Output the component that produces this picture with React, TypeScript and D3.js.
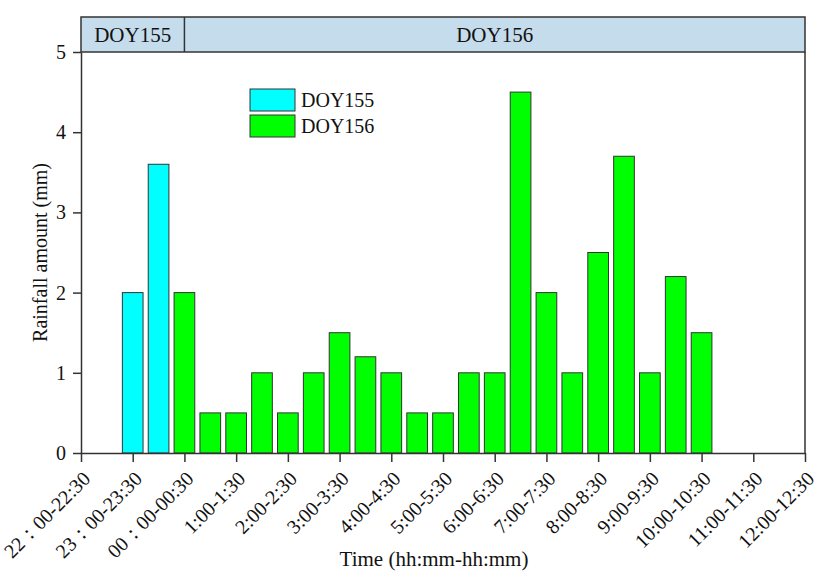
import React, { useRef, useEffect } from "react";
import * as d3 from "d3";

// half-hour bars, positioned by hour of day (24+ = next day)
const doy155Hours = [23, 23.5];
const doy155Rain = [2.0, 3.6];
const doy156Hours = [24, 24.5, 25, 25.5, 26, 26.5, 27, 27.5, 28, 28.5, 29, 29.5, 30, 30.5, 31, 31.5, 32, 32.5, 33, 33.5, 34];
const doy156Rain = [2.0, 0.5, 0.5, 1.0, 0.5, 1.0, 1.5, 1.2, 1.0, 0.5, 0.5, 1.0, 1.0, 4.5, 2.0, 1.0, 2.5, 3.7, 1.0, 2.2, 1.5];
const tickHours = [22, 23, 24, 25, 26, 27, 28, 29, 30, 31, 32, 33, 34, 35, 36];
const tickLabels = [
  "22：00-22:30", "23：00-23:30", "00：00-00:30", "1:00-1:30", "2:00-2:30",
  "3:00-3:30", "4:00-4:30", "5:00-5:30", "6:00-6:30", "7:00-7:30",
  "8:00-8:30", "9:00-9:30", "10:00-10:30", "11:00-11:30", "12:00-12:30"
];
const yTicks = [0, 1, 2, 3, 4, 5];

const FONT = "Liberation Serif, DejaVu Serif, serif";

export default function App() {
  const ref = useRef<SVGSVGElement>(null);

  useEffect(() => {
    const width = 819, height = 573;
    const margin = { top: 52, right: 14, bottom: 120, left: 81 };
    const headerH = 35;

    const svg = d3.select(ref.current);
    svg.selectAll("*").remove();
    svg.attr("width", width).attr("height", height).attr("font-family", FONT);

    svg.append("rect").attr("width", width).attr("height", height).attr("fill", "#fff");

    const x = d3.scaleLinear().domain([22, 36]).range([margin.left, width - margin.right]);
    const y = d3.scaleLinear().domain([0, 5]).range([height - margin.bottom, margin.top]);
    const barW = x(22.4) - x(22);

    // header strip
    const hdr = svg.append("g");
    hdr.append("rect")
      .attr("x", x(22)).attr("y", margin.top - headerH)
      .attr("width", x(36) - x(22)).attr("height", headerH)
      .attr("fill", "#c5dcec").attr("stroke", "#333").attr("stroke-width", 1.5);
    hdr.append("line")
      .attr("x1", x(24)).attr("x2", x(24))
      .attr("y1", margin.top - headerH).attr("y2", margin.top)
      .attr("stroke", "#333").attr("stroke-width", 1.5);
    hdr.append("text")
      .attr("x", (x(22) + x(24)) / 2).attr("y", margin.top - headerH / 2)
      .attr("text-anchor", "middle").attr("dominant-baseline", "central")
      .attr("font-family", FONT).attr("font-size", 21).attr("fill", "#111").text("DOY155");
    hdr.append("text")
      .attr("x", (x(24) + x(36)) / 2).attr("y", margin.top - headerH / 2)
      .attr("text-anchor", "middle").attr("dominant-baseline", "central")
      .attr("font-family", FONT).attr("font-size", 21).attr("fill", "#111").text("DOY156");

    // bars
    const drawBars = (hours: number[], vals: number[], color: string) => {
      svg.append("g")
        .selectAll("rect")
        .data(hours.map((h, i) => ({ h, v: vals[i] })))
        .enter()
        .append("rect")
        .attr("x", d => x(d.h) - barW / 2)
        .attr("y", d => y(d.v))
        .attr("width", barW)
        .attr("height", d => y(0) - y(d.v))
        .attr("fill", color)
        .attr("stroke", "#333")
        .attr("stroke-width", 1);
    };
    drawBars(doy155Hours, doy155Rain, "#00ffff");
    drawBars(doy156Hours, doy156Rain, "#00ff00");

    // right border
    svg.append("line")
      .attr("x1", x(36)).attr("x2", x(36)).attr("y1", y(5)).attr("y2", y(0))
      .attr("stroke", "#333").attr("stroke-width", 1.5);

    // y axis
    const yAxis = svg.append("g")
      .attr("transform", `translate(${x(22)},0)`)
      .call(d3.axisLeft(y).tickValues(yTicks).tickSize(8).tickSizeOuter(0).tickFormat(d3.format("d")));
    yAxis.attr("font-family", FONT).attr("font-size", 20);
    yAxis.selectAll("path, line").attr("stroke", "#333").attr("stroke-width", 1.5);
    yAxis.selectAll("text").attr("fill", "#111").attr("x", -15);

    // x axis
    const xAxis = svg.append("g")
      .attr("transform", `translate(0,${y(0)})`)
      .call(d3.axisBottom(x).tickValues(tickHours).tickSize(9).tickSizeOuter(0).tickFormat((d, i) => tickLabels[i]));
    xAxis.attr("font-family", FONT).attr("font-size", 20);
    xAxis.selectAll("path, line").attr("stroke", "#333").attr("stroke-width", 1.5);
    xAxis.selectAll("text")
      .attr("fill", "#111")
      .attr("text-anchor", "end")
      .attr("x", 0).attr("y", 0).attr("dy", 0)
      .attr("transform", "translate(10,27) rotate(-45)");

    // axis titles
    svg.append("text")
      .attr("transform", `translate(47,${(y(0) + y(5)) / 2}) rotate(-90)`)
      .attr("text-anchor", "middle")
      .attr("font-family", FONT).attr("font-size", 20).attr("fill", "#111")
      .text("Rainfall amount (mm)");
    svg.append("text")
      .attr("x", 434).attr("y", 566)
      .attr("text-anchor", "middle")
      .attr("font-family", FONT).attr("font-size", 21).attr("fill", "#111")
      .text("Time (hh:mm-hh:mm)");

    // legend
    const legend = svg.append("g").attr("transform", "translate(250,89)");
    [["DOY155", "#00ffff"], ["DOY156", "#00ff00"]].forEach(([name, c], i) => {
      legend.append("rect")
        .attr("x", 0).attr("y", i * 26).attr("width", 45).attr("height", 22)
        .attr("fill", c).attr("stroke", "#333").attr("stroke-width", 1);
      legend.append("text")
        .attr("x", 51).attr("y", i * 26 + 11).attr("dominant-baseline", "central")
        .attr("font-family", FONT).attr("font-size", 20).attr("fill", "#111")
        .text(name);
    });
  }, []);

  return (
    <div style={{ position: "absolute", left: 0, top: 0 }}>
      <svg ref={ref} style={{ display: "block" }}></svg>
    </div>
  );
}
